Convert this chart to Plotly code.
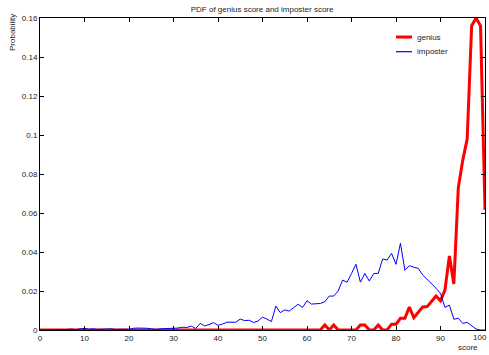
import plotly.graph_objects as go

# Score axis: integer scores 0..100
scores = list(range(0, 101))

# Genius score PDF
genius = [0.0] * 64 + [
    0.0026, 0.0, 0.0026, 0.0, 0.0, 0.0, 0.0, 0.0,      # 64-71
    0.0026, 0.0026, 0.0, 0.0, 0.0026, 0.0, 0.0,        # 72-78
    0.0030, 0.0030, 0.0060, 0.0060, 0.0118, 0.0063,    # 79-84
    0.0088, 0.0118, 0.0120, 0.0145, 0.0174, 0.0150,    # 85-90
    0.0205, 0.0380, 0.0236, 0.0730, 0.0870, 0.0980,    # 91-96
    0.1560, 0.1600, 0.1560, 0.0615,                    # 97-100
]

# Imposter score PDF
imposter = [
    0.0, 0.0, 0.0, 0.0, 0.0001, 0.0001, 0.0002, 0.0005, 0.0002, 0.0006,   # 0-9
    0.0008, 0.0004, 0.0006, 0.0003, 0.0005, 0.0004, 0.0006, 0.0003, 0.0005, 0.0004,  # 10-19
    0.0003, 0.0009, 0.0010, 0.0010, 0.0009, 0.0006, 0.0003, 0.0006, 0.0007, 0.0006,  # 20-29
    0.0008, 0.0010, 0.0014, 0.0013, 0.0020, 0.0008, 0.0034, 0.0021, 0.0028, 0.0038,  # 30-39
    0.0024, 0.0030, 0.0040, 0.0039, 0.0040, 0.0056, 0.0048, 0.0050, 0.0038, 0.0046,  # 40-49
    0.0066, 0.0056, 0.0043, 0.0123, 0.0089, 0.0103, 0.0097, 0.0115, 0.0132, 0.0116,  # 50-59
    0.0150, 0.0133, 0.0134, 0.0136, 0.0145, 0.0174, 0.0174, 0.0200, 0.0256, 0.0245,  # 60-69
    0.0290, 0.0337, 0.0245, 0.0290, 0.0251, 0.0290, 0.0290, 0.0364, 0.0359, 0.0393,  # 70-79
    0.0337, 0.0445, 0.0306, 0.0330, 0.0322, 0.0316, 0.0282, 0.0260, 0.0236, 0.0214,  # 80-89
    0.0188, 0.0116, 0.0128, 0.0055, 0.0060, 0.0034, 0.0039, 0.0022, 0.0005, 0.0,     # 90-99
    0.0,                                                                              # 100
]

x_ticks = list(range(0, 101, 10))
x_tick_text = [str(v) for v in x_ticks]
y_ticks = [0, 0.02, 0.04, 0.06, 0.08, 0.1, 0.12, 0.14, 0.16]
y_tick_text = ["0", "0.02", "0.04", "0.06", "0.08", "0.1", "0.12", "0.14", "0.16"]

series_names = ["genius", "imposter"]
series_colors = ["#ff0000", "#0000ff"]
series_widths = [3, 1]

font_family = "Liberation Sans, Arial, sans-serif"
text_color = "#222222"
label_font = dict(family=font_family, size=8, color=text_color)

fig = go.Figure()
for name, ys, color, width in zip(series_names, [genius, imposter], series_colors, series_widths):
    fig.add_trace(go.Scatter(
        x=scores, y=ys, mode="lines", name=name, showlegend=False,
        line=dict(color=color, width=width),
    ))

axis_common = dict(
    showgrid=False, zeroline=False,
    showline=True, linecolor="black", linewidth=1, mirror="ticks",
    ticks="inside", ticklen=4, tickcolor="black", tickwidth=1,
    tickfont=label_font, automargin=False,
)

# The last x tick label sits at the right page edge; draw it right-aligned
# so it stays inside the page.
x_labels_on_axis = x_tick_text[:-1] + [""]
edge_label = dict(
    text=x_tick_text[-1], xref="paper", yref="paper",
    x=1 + 4 / 445, y=0, yshift=-7, xanchor="right", yanchor="middle",
    showarrow=False, font=label_font,
)

# Compact legend: short line samples with labels, top right of the axes
legend_shapes = []
legend_notes = []
legend_rows = [0.939, 0.892]
for name, color, width, row in zip(series_names, series_colors, series_widths, legend_rows):
    legend_shapes.append(dict(
        type="line", xref="paper", yref="paper",
        x0=0.80, x1=0.836, y0=row, y1=row,
        line=dict(color=color, width=width if width > 1 else 1.2),
    ))
    legend_notes.append(dict(
        text=name, xref="paper", yref="paper", x=0.842, y=row,
        xanchor="left", yanchor="middle", showarrow=False, font=label_font,
    ))

fig.update_layout(
    width=489, height=355,
    margin=dict(l=40, r=4, t=18, b=25, autoexpand=False),
    paper_bgcolor="white", plot_bgcolor="white",
    showlegend=False,
    title=dict(
        text="PDF of genius score and imposter score",
        x=0.536, xanchor="center", y=1 - 9 / 355, yanchor="middle",
        font=label_font,
    ),
    xaxis=dict(range=[0, 100], tickvals=x_ticks, ticktext=x_labels_on_axis, **axis_common),
    yaxis=dict(range=[0, 0.16], tickvals=y_ticks, ticktext=y_tick_text, **axis_common),
    shapes=legend_shapes,
    annotations=legend_notes + [edge_label] + [
        dict(text="Probability", textangle=-90, xref="paper", yref="paper",
             x=-0.063, y=0.955, xanchor="center", yanchor="middle", showarrow=False,
             font=label_font),
        dict(text="score", xref="paper", yref="paper",
             x=0.962, y=-0.0545, xanchor="center", yanchor="middle", showarrow=False,
             font=label_font),
    ],
)

fig.write_html("out.html")
